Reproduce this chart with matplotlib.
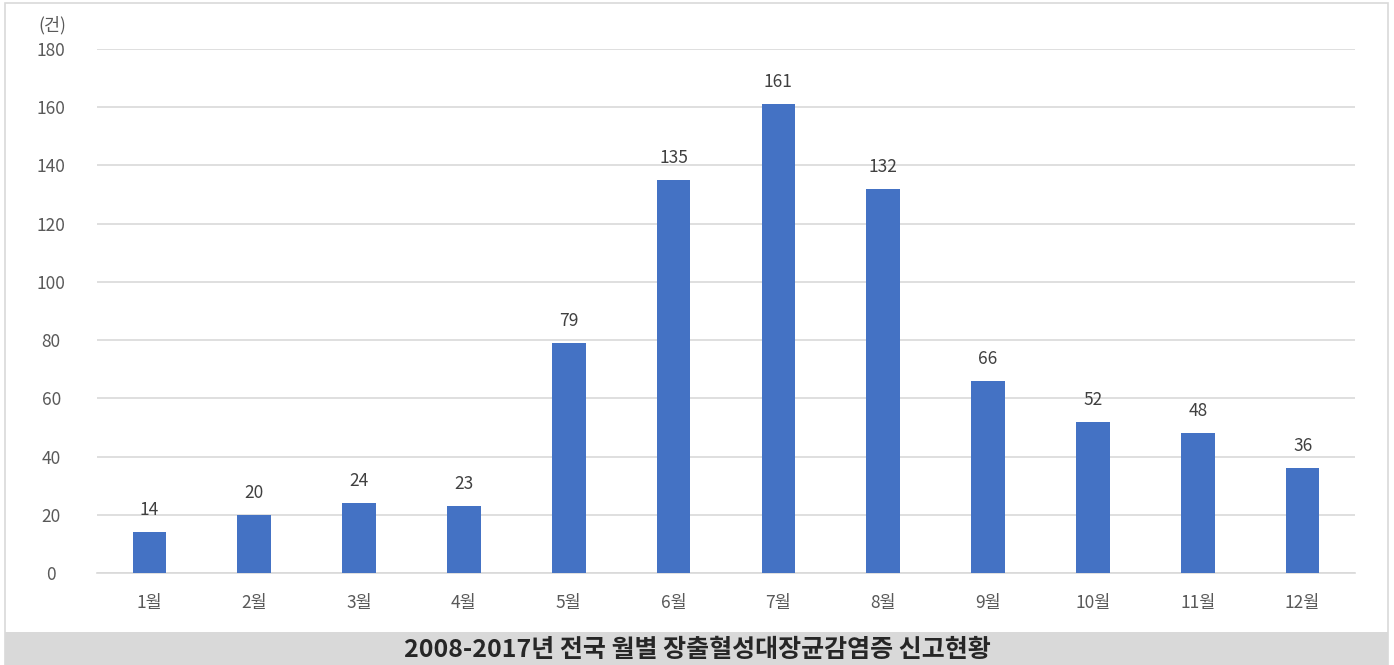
import matplotlib
matplotlib.use('Agg')
import matplotlib.pyplot as plt
from matplotlib.patches import Rectangle

plt.rcParams['font.family'] = ['Noto Sans CJK KR', 'DejaVu Sans']

# monthly report counts, 2008-2017
months = ['1월', '2월', '3월', '4월', '5월', '6월', '7월', '8월', '9월', '10월', '11월', '12월']
counts = [14, 20, 24, 23, 79, 135, 161, 132, 66, 52, 48, 36]
y_ticks = [0, 20, 40, 60, 80, 100, 120, 140, 160, 180]
title = '2008-2017년 전국 월별 장출혈성대장균감염증 신고현황'

W, H = 1394, 665
fig = plt.figure(figsize=(W / 100, H / 100), dpi=100)
fig.patch.set_facecolor('white')

# outer frame and caption band
fig.patches.append(Rectangle((5 / W, 0), 1383 / W, 662 / H, transform=fig.transFigure,
                             facecolor='white', edgecolor='#d9d9d9', lw=1.2, zorder=-2))
fig.patches.append(Rectangle((5 / W, 0), 1383 / W, 33 / H, transform=fig.transFigure,
                             facecolor='#d9d9d9', edgecolor='none', zorder=-1))
fig.text(697 / W, 1 - 650 / H, title, ha='center', va='center',
         fontsize=18, fontweight='bold', color='#262626')

ax = fig.add_axes([97 / W, 1 - 573 / H, (1355 - 97) / W, (573 - 49) / H])
ax.set_facecolor('none')
ax.set_zorder(5)

x = range(len(months))
ax.bar(x, counts, width=0.32, color='#4472C4', zorder=3)
for xi, v in zip(x, counts):
    ax.text(xi, v + 4.5, str(v), ha='center', va='bottom', fontsize=12.5, color='#404040')

ax.set_xlim(-0.5, len(months) - 0.5)
ax.set_ylim(0, 180)
ax.set_yticks(y_ticks)
ax.set_xticks(list(x))
ax.set_xticklabels(months)
ax.yaxis.grid(True, color='#d9d9d9', lw=1.2, zorder=0)
ax.set_axisbelow(True)
ax.tick_params(axis='both', length=0, labelsize=12.5, labelcolor='#595959')
ax.tick_params(axis='y', pad=33)
ax.tick_params(axis='x', pad=15)
for lbl in ax.get_yticklabels():
    lbl.set_horizontalalignment('center')
for s in ['top', 'right', 'left']:
    ax.spines[s].set_visible(False)
ax.spines['bottom'].set_color('#d9d9d9')
ax.spines['bottom'].set_linewidth(1.2)

fig.text(52 / W, 1 - 25 / H, '(건)', ha='center', va='center', fontsize=12.5, color='#595959')

fig.savefig('out.png', dpi=100)
